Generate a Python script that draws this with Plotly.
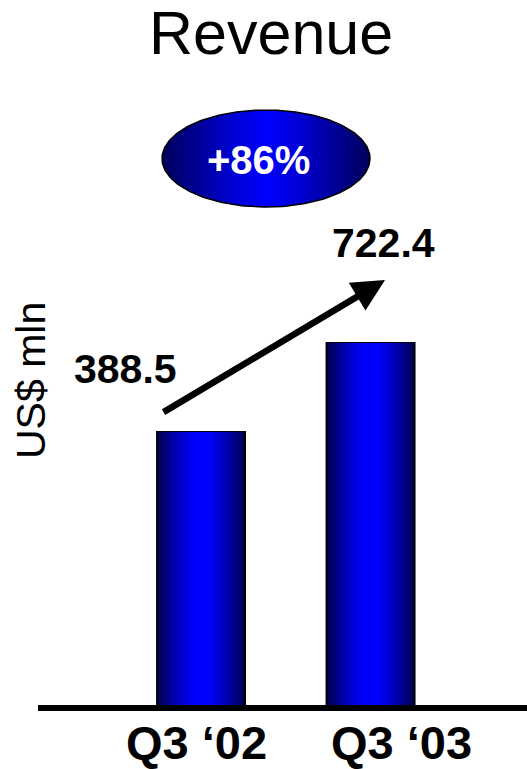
import numpy as np
import plotly.graph_objects as go

# ---- data ----
categories = ["Q3 ‘02", "Q3 ‘03"]
revenue = [388.5, 722.4]
value_labels = ["388.5", "722.4"]
growth_label = "+86%"
title_text = "Revenue"
y_title = "US$ mln"

# ---- layout constants ----
W, H = 527, 769
ML, MR, MT, MB = 38, 0, 100, 64
Y_MIN, Y_MAX = -635.7, 1634.1       # hidden value axis (truncated look of original)
X_MIN, X_MAX = -0.962, 1.923
BAR_W = 0.519
N_LAYERS = 40

NARROW = "Liberation Sans Narrow, Arial Narrow, Liberation Sans, Arial, sans-serif"
REG = "Liberation Sans, Arial, sans-serif"

PW, PH = W - ML - MR, H - MT - MB


def px_to_paper(px, py):
    return (px - ML) / PW, (H - MB - py) / PH


fig = go.Figure()


def blue_at(t):
    # t: 0 at bar centre, 1 at bar edge
    k = max(0.0, (t - 0.12) / 0.88)
    b = 255 - 175 * k ** 1.3
    return f"rgb(0,0,{int(round(b))})"


# gradient bars built from overlaid bars of decreasing width
for i in range(N_LAYERS):
    frac = 1 - i / N_LAYERS
    fig.add_trace(go.Bar(
        x=categories,
        y=[v - Y_MIN for v in revenue],
        base=Y_MIN,
        width=BAR_W * frac,
        marker=dict(
            color=blue_at(frac),
            line=dict(color="black", width=2 if i == 0 else 0),
        ),
        hoverinfo="skip",
    ))

# ellipse badge (decoration) on a pixel overlay axis
theta = np.linspace(0, 2 * np.pi, 241)
ex = 266 + 104 * np.cos(theta)
ey = 158.5 + 48.5 * np.sin(theta)
fig.add_trace(go.Scatter(
    x=ex, y=ey, xaxis="x2", yaxis="y2", mode="lines",
    fill="toself",
    fillgradient=dict(type="horizontal", colorscale=[
        [0, "rgb(0,0,90)"], [0.35, "rgb(0,0,215)"], [0.5, "rgb(0,0,255)"],
        [0.65, "rgb(0,0,215)"], [1, "rgb(0,0,90)"]]),
    line=dict(color="black", width=1.5),
    hoverinfo="skip",
))

annotations = []
# title
tx, ty = px_to_paper(271, 33)
annotations.append(dict(x=tx, y=ty, xref="paper", yref="paper", text=title_text,
                        showarrow=False, font=dict(family=REG, size=61, color="black"),
                        xanchor="center", yanchor="middle"))
# y axis title
tx, ty = px_to_paper(31, 381)
annotations.append(dict(x=tx, y=ty, xref="paper", yref="paper", text=y_title, textangle=-90,
                        showarrow=False, font=dict(family=REG, size=41, color="black"),
                        xanchor="center", yanchor="middle"))
# growth label
annotations.append(dict(x=258, y=160, xref="x2", yref="y2", text=f"<b>{growth_label}</b>",
                        showarrow=False, font=dict(family=NARROW, size=40, color="white"),
                        xanchor="center", yanchor="middle"))
# value labels
val_shift = [(-76, 63), (13, 100)]
for cat, v, lab, (dx, dy) in zip(categories, revenue, value_labels, val_shift):
    annotations.append(dict(x=cat, y=v, xref="x", yref="y", text=f"<b>{lab}</b>",
                            showarrow=False, xshift=dx, yshift=dy,
                            font=dict(family=NARROW, size=41, color="black"),
                            xanchor="center", yanchor="middle"))
# category labels
_, cy = px_to_paper(0, 742)
cat_shift = [-5, 31]
for cat, dx in zip(categories, cat_shift):
    annotations.append(dict(x=cat, y=cy, xref="x", yref="paper", text=f"<b>{cat}</b>",
                            showarrow=False, xshift=dx,
                            font=dict(family=REG, size=47, color="black"),
                            xanchor="center", yanchor="middle"))
# growth arrow
annotations.append(dict(x=categories[1], y=revenue[1], xref="x", yref="y", text="",
                        showarrow=True, xshift=14.5, yshift=63, ax=-223, ay=133,
                        arrowhead=2, arrowwidth=6.5, arrowsize=1, arrowcolor="black",
                        standoff=0, startstandoff=0))

fig.update_layout(
    width=W, height=H,
    margin=dict(l=ML, r=MR, t=MT, b=MB, pad=0),
    paper_bgcolor="white", plot_bgcolor="white",
    showlegend=False, barmode="overlay",
    xaxis=dict(type="category", range=[X_MIN, X_MAX], showticklabels=False, ticks="",
               showgrid=False, zeroline=False, showline=True, linecolor="black",
               linewidth=6, fixedrange=True),
    yaxis=dict(range=[Y_MIN, Y_MAX], visible=False, fixedrange=True),
    xaxis2=dict(range=[ML, W - MR], overlaying="x", anchor="y2", visible=False),
    yaxis2=dict(range=[H - MB, MT], overlaying="y", anchor="x2", visible=False),
    annotations=annotations,
)

fig.write_html("out.html")
